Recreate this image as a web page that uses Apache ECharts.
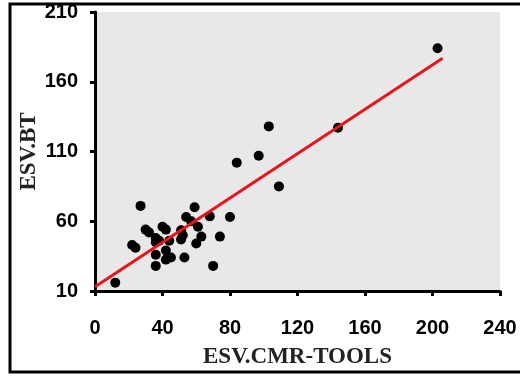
<!DOCTYPE html>
<html lang="en">
<head>
    <meta charset="UTF-8">
    <title>ESV scatter</title>
    <script src="https://cdn.jsdelivr.net/npm/echarts@6/dist/echarts.min.js"></script>
</head>
<body style="margin:0">
<div id="main" style="width:520px;height:378px"></div>
</body>
<script>
    // ESV.CMR-TOOLS (x) against ESV.BT (y)
    var xValues = [203, 144, 103, 97, 84, 109, 27, 59, 54, 68, 80, 57, 61, 40, 42, 30, 32, 51, 52, 51,
        63, 74, 36, 38, 36, 44, 60, 22, 24, 42, 36, 42, 45, 53, 36, 70, 12];
    var yValues = [184, 127, 128, 107, 102, 85, 71, 70, 63, 63.5, 63, 60, 56, 56, 54, 54, 52, 53.5, 50, 47,
        49, 49, 48, 46, 45, 46, 44, 43, 41, 39, 36, 32.5, 34, 34, 28, 28, 16];

    // regression line ends
    var fitX = [0, 206];
    var fitY = [13.1, 176.9];

    var xTicks = [0, 40, 80, 120, 160, 200, 240];
    var yTicks = [10, 60, 110, 160, 210];

    var points = [];
    for (var i = 0; i < xValues.length; i++) {
        points.push([xValues[i], yValues[i]]);
    }
    var fitLine = [];
    for (var j = 0; j < fitX.length; j++) {
        fitLine.push([fitX[j], fitY[j]]);
    }

    var myChart = echarts.init(document.getElementById('main'));

    var option = {
        backgroundColor: '#fff',
        animation: false,
        graphic: [{
            type: 'rect',
            shape: {x: 10, y: 4, width: 530, height: 368},
            style: {fill: 'none', stroke: '#000', lineWidth: 3},
            z: 100
        }],
        grid: {
            left: 95,
            right: 20,
            top: 12,
            bottom: 87,
            outerBoundsMode: 'none',
            containLabel: false,
            show: true,
            backgroundColor: '#e8e8e8',
            borderWidth: 0
        },
        xAxis: {
            type: 'value',
            min: xTicks[0],
            max: xTicks[xTicks.length - 1],
            interval: 40,
            name: 'ESV.CMR-TOOLS',
            nameLocation: 'middle',
            nameGap: 55,
            nameMoveOverlap: false,
            nameTextStyle: {
                fontFamily: 'Liberation Serif',
                fontWeight: 'bold',
                fontSize: 23,
                color: '#222'
            },
            axisLine: {lineStyle: {color: '#000', width: 3}},
            axisTick: {show: true, length: 5, lineStyle: {color: '#000', width: 3}},
            axisLabel: {
                margin: 27,
                fontFamily: 'Liberation Sans',
                fontWeight: 'bold',
                fontSize: 20,
                color: '#000'
            },
            splitLine: {show: false}
        },
        yAxis: {
            type: 'value',
            min: yTicks[0],
            max: yTicks[yTicks.length - 1],
            interval: 50,
            name: 'ESV.BT',
            nameLocation: 'middle',
            nameGap: 54,
            nameMoveOverlap: false,
            nameTextStyle: {
                fontFamily: 'Liberation Serif',
                fontWeight: 'bold',
                fontSize: 23,
                color: '#222'
            },
            axisLine: {show: true, lineStyle: {color: '#000', width: 3}},
            axisTick: {show: true, length: 5, lineStyle: {color: '#000', width: 3}},
            axisLabel: {
                margin: 17,
                fontFamily: 'Liberation Sans',
                fontWeight: 'bold',
                fontSize: 20,
                color: '#000'
            },
            splitLine: {show: false}
        },
        series: [
            {
                type: 'scatter',
                data: points,
                symbolSize: 10,
                itemStyle: {color: '#000', opacity: 1},
                z: 2
            },
            {
                type: 'line',
                data: fitLine,
                symbol: 'none',
                lineStyle: {color: '#e8141b', width: 3},
                z: 3
            }
        ]
    };

    myChart.setOption(option);
</script>
</html>
